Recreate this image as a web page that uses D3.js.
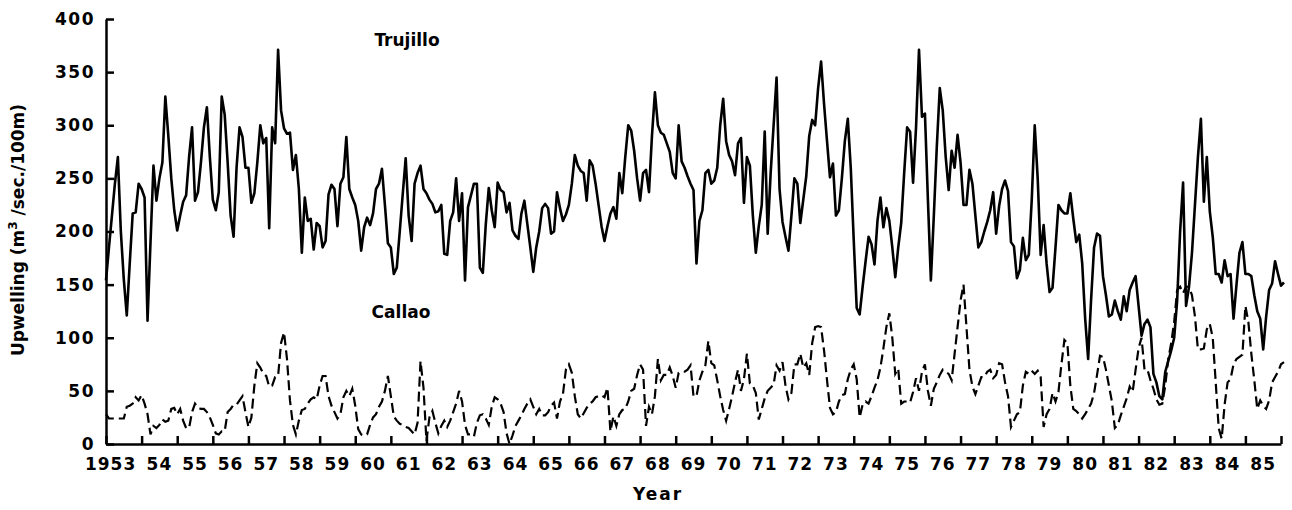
<!DOCTYPE html>
<html>
<head>
<meta charset="utf-8">
<script src="https://cdn.jsdelivr.net/npm/d3@7"></script>
<style>
  body { margin: 0; background: #fff; }
  text { font-family: "DejaVu Sans", sans-serif; font-weight: bold; fill: #000; }
</style>
</head>
<body>
<script>
// monthly upwelling index, Jan 1953 .. Feb 1986 (one row per year)
const startYear = 1953;

const trujillo = [
  154, 185, 215, 245, 270, 200, 155, 121, 170, 217, 218, 245,
  240, 232, 116, 190, 262, 229, 250, 265, 327, 290, 250, 220,
  201, 215, 228, 234, 270, 298, 229, 237, 265, 298, 317, 270,
  230, 220, 237, 327, 310, 265, 215, 195, 260, 298, 289, 260,
  260, 227, 236, 265, 300, 283, 288, 203, 298, 283, 371, 314,
  297, 292, 293, 258, 272, 240, 180, 232, 210, 212, 183, 208,
  205, 185, 191, 235, 244, 240, 205, 245, 251, 289, 240, 232,
  225, 210, 182, 204, 213, 206, 217, 240, 245, 259, 225, 189,
  185, 160, 166, 200, 235, 269, 215, 191, 245, 255, 262, 240,
  236, 230, 226, 218, 219, 225, 179, 178, 210, 218, 250, 210,
  236, 154, 223, 234, 245, 245, 166, 161, 207, 241, 220, 204,
  246, 239, 237, 218, 227, 201, 196, 193, 217, 229, 207, 185,
  162, 185, 200, 222, 226, 222, 198, 200, 237, 222, 210, 216,
  225, 245, 272, 262, 257, 255, 229, 267, 262, 245, 225, 205,
  191, 205, 217, 223, 212, 255, 236, 270, 300, 295, 276, 250,
  229, 255, 258, 237, 290, 331, 300, 293, 291, 283, 275, 255,
  250, 300, 266, 260, 252, 245, 239, 170, 210, 220, 255, 258,
  245, 248, 260, 300, 325, 285, 272, 266, 253, 283, 288, 227,
  270, 262, 215, 180, 205, 225, 294, 198, 255, 300, 345, 240,
  209, 195, 182, 215, 250, 245, 208, 230, 252, 290, 305, 300,
  335, 360, 320, 285, 251, 264, 215, 220, 250, 285, 306, 260,
  192, 128, 122, 148, 172, 195, 188, 169, 210, 232, 204, 222,
  210, 185, 157, 185, 208, 255, 298, 294, 246, 298, 371, 308,
  311, 230, 154, 215, 280, 335, 314, 270, 239, 276, 260, 291,
  265, 225, 225, 258, 245, 215, 185, 190, 200, 209, 220, 237,
  198, 224, 240, 248, 238, 190, 186, 156, 164, 194, 173, 178,
  230, 300, 250, 178, 206, 170, 143, 147, 185, 225, 220, 217,
  217, 236, 212, 190, 197, 170, 118, 80, 136, 185, 198, 196,
  158, 140, 120, 122, 135, 125, 117, 139, 125, 145, 152, 158,
  130, 102, 113, 117, 110, 66, 58, 45, 42, 68, 78, 88,
  100, 135, 200, 246, 130, 148, 180, 225, 270, 306, 228, 270,
  219, 195, 160, 160, 152, 173, 158, 160, 118, 150, 180, 190,
  160, 160, 158, 140, 125, 118, 89, 120, 145, 151, 172, 160,
  149, 152
];

const callao = [
  28, 24, 24, 24, 24, 24, 24, 35, 36, 38, 44, 41,
  46, 38, 28, 9, 17, 15, 18, 23, 21, 22, 33, 34,
  28, 33, 22, 15, 15, 30, 38, 34, 33, 33, 30, 25,
  18, 10, 9, 12, 12, 30, 33, 37, 37, 41, 45, 30,
  16, 25, 55, 76, 72, 66, 64, 54, 55, 63, 64, 95,
  105, 80, 41, 18, 9, 22, 32, 33, 38, 42, 44, 42,
  55, 64, 64, 45, 36, 30, 24, 28, 44, 50, 45, 52,
  36, 14, 9, 8, 9, 18, 25, 28, 35, 40, 50, 64,
  45, 26, 22, 19, 18, 16, 15, 12, 9, 20, 78, 53,
  3, 25, 31, 20, 10, 17, 22, 16, 22, 30, 38, 50,
  40, 18, 9, 9, 7, 20, 27, 28, 24, 18, 35, 44,
  42, 38, 30, 10, 0, 8, 17, 22, 27, 33, 38, 42,
  35, 28, 33, 27, 27, 30, 36, 39, 24, 40, 47, 70,
  75, 67, 45, 28, 24, 29, 34, 38, 40, 44, 45, 46,
  44, 53, 12, 26, 17, 28, 32, 33, 40, 50, 52, 65,
  75, 70, 17, 35, 28, 45, 80, 60, 65, 65, 72, 64,
  53, 67, 68, 68, 70, 74, 45, 45, 60, 68, 74, 97,
  76, 74, 60, 45, 32, 22, 33, 45, 58, 70, 50, 61,
  85, 57, 55, 48, 23, 33, 43, 50, 53, 56, 74, 69,
  77, 55, 42, 48, 75, 75, 85, 72, 76, 65, 95, 110,
  111, 110, 88, 60, 34, 28, 30, 40, 46, 47, 61, 70,
  75, 61, 25, 37, 40, 38, 45, 53, 60, 72, 90, 110,
  123, 100, 66, 71, 38, 40, 40, 39, 49, 62, 50, 68,
  75, 50, 36, 52, 58, 65, 70, 68, 66, 60, 85, 110,
  135, 150, 110, 70, 54, 47, 55, 63, 63, 68, 70, 62,
  65, 76, 75, 58, 45, 16, 22, 28, 30, 55, 68, 66,
  69, 66, 69, 63, 16, 28, 33, 48, 40, 49, 75, 98,
  95, 55, 33, 31, 28, 24, 28, 33, 38, 48, 65, 83,
  82, 70, 55, 40, 15, 18, 27, 35, 43, 54, 49, 70,
  90, 100, 70, 70, 60, 52, 42, 37, 38, 55, 80, 95,
  115, 145, 148, 142, 148, 148, 140, 120, 89, 89, 90, 108,
  113, 100, 58, 15, 5, 37, 58, 61, 75, 80, 82, 84,
  130, 115, 85, 60, 33, 41, 36, 33, 41, 58, 63, 68,
  75, 77
];

const yTicks = [0, 50, 100, 150, 200, 250, 300, 350, 400];
const yearTicks = d3.range(1953, 1987);
const yearLabels = ["1953", "54", "55", "56", "57", "58", "59", "60", "61", "62", "63",
  "64", "65", "66", "67", "68", "69", "70", "71", "72", "73", "74", "75", "76",
  "77", "78", "79", "80", "81", "82", "83", "84", "85"];

const width = 1292, height = 510;

const x = d3.scaleLinear().domain([1953, 1986]).range([106, 1281]);
const y = d3.scaleLinear().domain([0, 400]).range([444, 19]);

const svg = d3.select("body").append("svg")
  .attr("width", width)
  .attr("height", height);

// y axis, ticks point inward
const yAxis = svg.append("g")
  .attr("transform", `translate(${x(1953)},0)`)
  .call(d3.axisLeft(y).tickValues(yTicks).tickSize(-8).tickSizeOuter(0).tickPadding(11));

// x axis, year boundaries
svg.append("g")
  .attr("transform", `translate(0,${y(0)})`)
  .call(d3.axisBottom(x).tickValues(yearTicks).tickSize(-8).tickSizeOuter(0).tickFormat(""));

svg.selectAll(".domain, .tick line")
  .attr("stroke", "#000")
  .attr("stroke-width", 2.5);

yAxis.selectAll(".tick text")
  .style("font-size", "17px")
  .style("letter-spacing", "1.5px");

// year labels sit in the middle of each year; "1953" hangs left of its year
svg.append("g")
  .selectAll("text")
  .data(yearLabels)
  .join("text")
  .attr("x", (d, i) => i === 0 ? x(startYear + 0.85) : x(startYear + i + 0.5))
  .attr("y", y(0) + 26)
  .attr("text-anchor", (d, i) => i === 0 ? "end" : "middle")
  .style("font-size", "17px")
  .style("letter-spacing", "1px")
  .text(d => d);

const line = d3.line()
  .x((d, i) => x(startYear + i / 12))
  .y(d => y(d));

svg.append("path")
  .datum(trujillo)
  .attr("fill", "none")
  .attr("stroke", "#000")
  .attr("stroke-width", 2.6)
  .attr("stroke-linejoin", "round")
  .attr("d", line);

svg.append("path")
  .datum(callao)
  .attr("fill", "none")
  .attr("stroke", "#000")
  .attr("stroke-width", 2.2)
  .attr("stroke-dasharray", "10,5")
  .attr("d", line);

// series names
svg.append("text")
  .attr("x", 407).attr("y", 46)
  .attr("text-anchor", "middle")
  .style("font-size", "17px")
  .text("Trujillo");

svg.append("text")
  .attr("x", 401).attr("y", 318)
  .attr("text-anchor", "middle")
  .style("font-size", "17px")
  .text("Callao");

// axis titles
svg.append("text")
  .attr("x", 658).attr("y", 500)
  .attr("text-anchor", "middle")
  .style("font-size", "17px")
  .style("letter-spacing", "2px")
  .text("Year");

const yTitle = svg.append("text")
  .attr("transform", "translate(24,230) rotate(-90)")
  .attr("text-anchor", "middle")
  .style("font-size", "17px");
yTitle.append("tspan").text("Upwelling  (m");
yTitle.append("tspan").attr("dy", -7).style("font-size", "12px").text("3");
yTitle.append("tspan").attr("dy", 7).text(" /sec./100m)");
</script>
</body>
</html>
